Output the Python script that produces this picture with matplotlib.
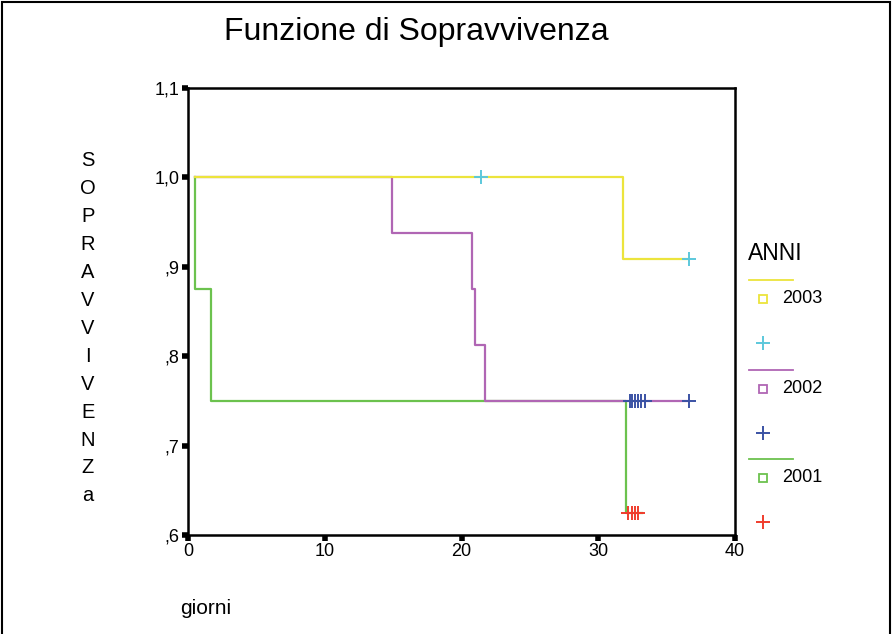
import numpy as np
import matplotlib.pyplot as plt
from matplotlib.lines import Line2D
from matplotlib.patches import Rectangle

plt.rcParams['font.family'] = ['Liberation Sans', 'DejaVu Sans']

# Kaplan-Meier step curves (time, survival)
t_2003 = [0.5, 31.8, 31.8, 36.6]
s_2003 = [1.0, 1.0, 0.909, 0.909]
cens_t_2003 = [21.4, 36.6]
cens_s_2003 = [1.0, 0.909]

t_2002 = [0.5, 14.9, 14.9, 20.8, 20.8, 21.0, 21.0, 21.7, 21.7, 36.6]
s_2002 = [1.0, 1.0, 0.9375, 0.9375, 0.875, 0.875, 0.8125, 0.8125, 0.75, 0.75]
cens_t_2002 = [32.3, 32.5, 32.7, 32.9, 33.1, 33.4, 36.6]
cens_s_2002 = [0.75] * 7

t_2001 = [0.5, 0.5, 1.7, 1.7, 32.0, 32.0, 33.2]
s_2001 = [1.0, 0.875, 0.875, 0.75, 0.75, 0.625, 0.625]
cens_t_2001 = [32.2, 32.5, 32.7, 32.9]
cens_s_2001 = [0.625] * 4

years = ['2003', '2002', '2001']
line_colors = ['#ece43c', '#b066b4', '#6cc24e']
cens_colors = ['#5cc8dc', '#3a52a4', '#f03c2c']

x_ticks = [0, 10, 20, 30, 40]
y_ticks = [0.6, 0.7, 0.8, 0.9, 1.0, 1.1]
y_labels = [',6', ',7', ',8', ',9', '1,0', '1,1']

fig = plt.figure(figsize=(8.94, 6.34), dpi=100)
ax = fig.add_axes([188 / 894, 1 - 535 / 634, (735 - 188) / 894, (535 - 88) / 634])

curves = [(t_2003, s_2003, cens_t_2003, cens_s_2003),
          (t_2002, s_2002, cens_t_2002, cens_s_2002),
          (t_2001, s_2001, cens_t_2001, cens_s_2001)]

# draw 2001 first so that 2002/2003 sit on top like the original
for i in [2, 1, 0]:
    t, s, ct, cs = curves[i]
    ax.plot(t, s, color=line_colors[i], lw=1.6, zorder=2)
for i in [2, 1, 0]:
    t, s, ct, cs = curves[i]
    ax.plot(ct, cs, ls='none', marker='+', ms=10, mew=1.4, color=cens_colors[i], zorder=3)

ax.set_xlim(0, 40)
ax.set_ylim(0.6, 1.1)
ax.set_xticks(x_ticks)
ax.set_yticks(y_ticks)
ax.set_yticklabels(y_labels)
for sp in ax.spines.values():
    sp.set_linewidth(1.8)
ax.tick_params(direction='out', length=4, width=4, labelsize=13, pad=2)

fig.text(416 / 894, 1 - 32 / 634, 'Funzione di Sopravvivenza', ha='center', va='center', fontsize=23)

ylab = 'SOPRAVVIVENZa'
for k, ch in enumerate(ylab):
    fig.text(88 / 894, 1 - (161 + k * 27.9) / 634, ch, ha='center', va='center', fontsize=14.5)

fig.text(180 / 894, 1 - 608 / 634, 'giorni', ha='left', va='center', fontsize=15)

# legend drawn by hand to match SPSS layout
fig.text(748 / 894, 1 - 254 / 634, 'ANNI', ha='left', va='center', fontsize=16.5)
tr = fig.transFigure
for j in range(3):
    y0 = 280 + j * 89.5
    fig.add_artist(Line2D([749 / 894, 793 / 894], [1 - y0 / 634] * 2, color=line_colors[j], lw=1.3, transform=tr))
    fig.add_artist(Line2D([763 / 894], [1 - (y0 + 19) / 634], marker='s', ms=6, mfc='none',
                          mec=line_colors[j], mew=1.3, ls='none', transform=tr))
    fig.text(782 / 894, 1 - (y0 + 19) / 634, years[j], ha='left', va='center', fontsize=13)
    fig.add_artist(Line2D([763 / 894], [1 - (y0 + 63) / 634], marker='+', ms=10, mew=1.4,
                          color=cens_colors[j], ls='none', transform=tr))

fig.add_artist(Rectangle((2 / 894, -0.05), 888 / 894, 1.05 - 2 / 634, fill=False,
                         edgecolor='black', lw=1.5, transform=tr))

fig.savefig('out.png', dpi=100)
